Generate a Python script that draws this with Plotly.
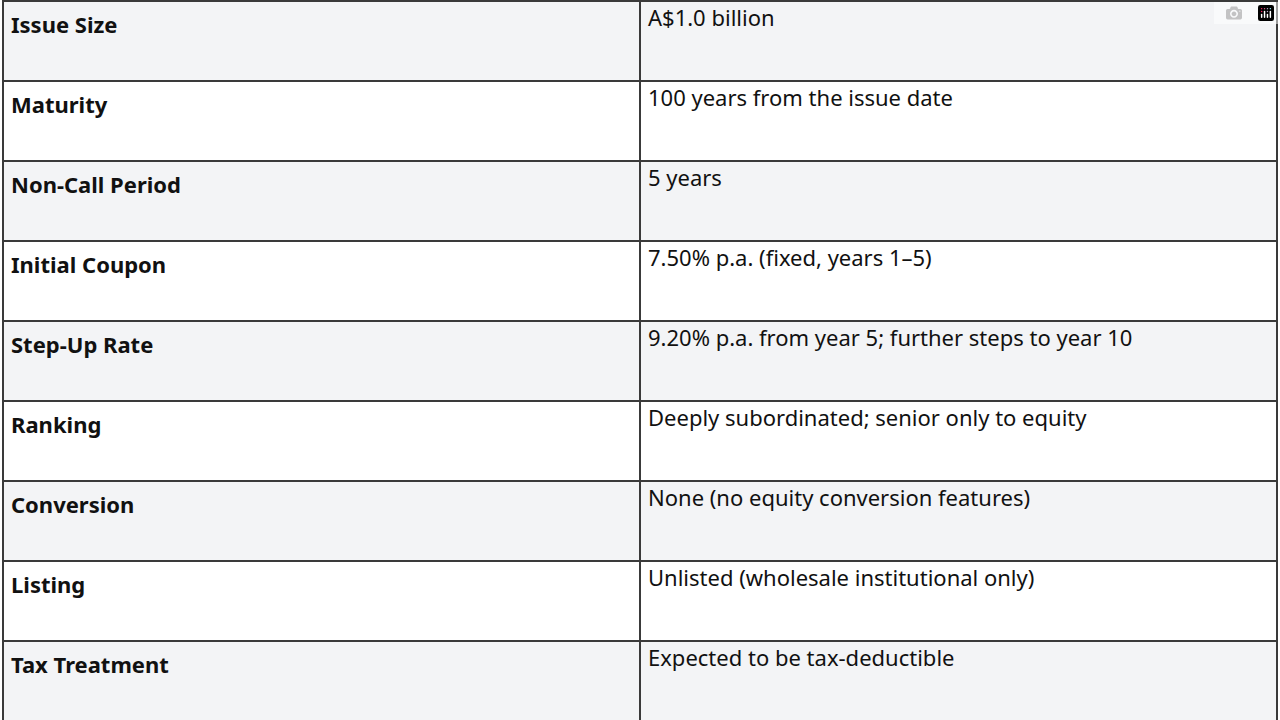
import plotly.graph_objects as go

terms = ["Issue Size", "Maturity", "Non-Call Period", "Initial Coupon", "Step-Up Rate",
         "Ranking", "Conversion", "Listing", "Tax Treatment"]
details = ["A$1.0 billion", "100 years from the issue date", "5 years",
           "7.50% p.a. (fixed, years 1\u20135)",
           "9.20% p.a. from year 5; further steps to year 10",
           "Deeply subordinated; senior only to equity",
           "None (no equity conversion features)",
           "Unlisted (wholesale institutional only)",
           "Expected to be tax-deductible"]

# first row goes in the header so no empty header bar shows
fills = ["#f3f4f6" if i % 2 == 0 else "#ffffff" for i in range(1, len(terms))]
font = dict(family="Noto Sans", size=22, color="#111111")
line = dict(color="#3a3a3a", width=1.5)

fig = go.Figure(go.Table(
    columnwidth=[638, 638],
    header=dict(values=["<b>" + terms[0] + "</b>", details[0]], height=80,
                fill_color="#f3f4f6", line=line, align="left", font=font),
    cells=dict(
        values=[["<b>" + t + "</b>" for t in terms[1:]], details[1:]],
        fill_color=[fills, fills],
        line=line,
        align="left",
        height=80,
        font=font,
    ),
    domain=dict(x=[0, 1], y=[0, 1]),
))
fig.update_layout(width=1280, height=720, margin=dict(l=3, r=3, t=1, b=0),
                  paper_bgcolor="white")
fig.write_html("out.html")

# drop the browser's default page margin
with open("out.html") as f:
    html = f.read()
html = html.replace("<head>", "<head><style>body{margin:0;}</style>", 1)
with open("out.html", "w") as f:
    f.write(html)
